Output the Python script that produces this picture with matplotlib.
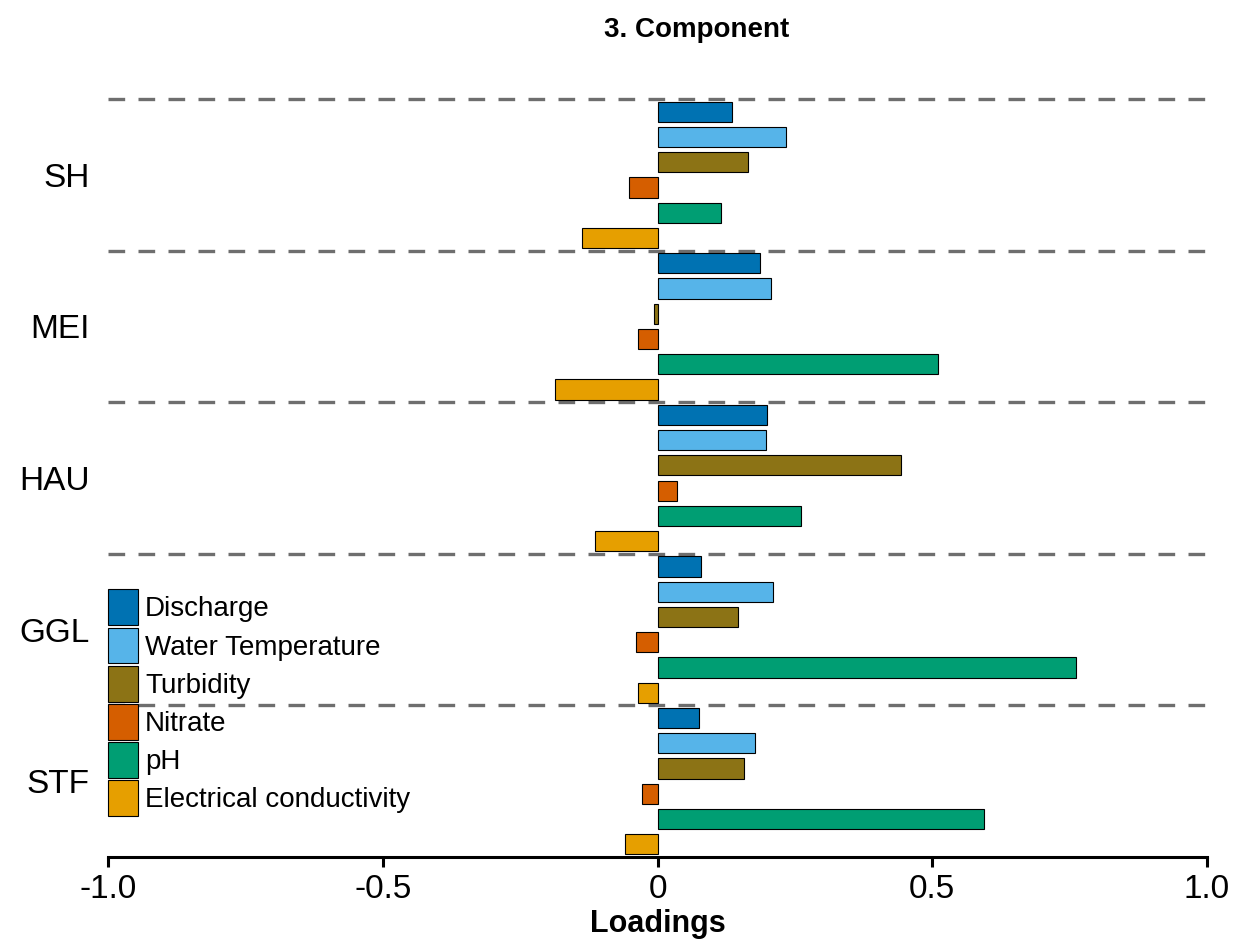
import matplotlib.pyplot as plt
from matplotlib.patches import Patch

# Sites (top to bottom) and variables within each site
sites = ['SH', 'MEI', 'HAU', 'GGL', 'STF']
variables = ['Discharge', 'Water Temperature', 'Turbidity', 'Nitrate', 'pH',
             'Electrical conductivity']
colors = ['#0072B2', '#56B4E9', '#8C7315', '#D55E00', '#009E73', '#E69F00']

# Loadings on the 3rd component, one row per site, same order as variables
sh = [0.136, 0.233, 0.164, -0.051, 0.116, -0.138]
mei = [0.186, 0.206, -0.007, -0.035, 0.511, -0.186]
hau = [0.200, 0.197, 0.444, 0.036, 0.262, -0.113]
ggl = [0.080, 0.211, 0.146, -0.040, 0.761, -0.035]
stf = [0.076, 0.177, 0.158, -0.029, 0.595, -0.060]
loadings = [sh, mei, hau, ggl, stf]

xticks = [-1.0, -0.5, 0, 0.5, 1.0]
xticklabels = ['-1.0', '-0.5', '0', '0.5', '1.0']

plt.rcParams['font.family'] = ['Liberation Sans', 'DejaVu Sans']

fig = plt.figure(figsize=(12.33, 9.4), dpi=100)
ax = fig.add_axes([108 / 1233, 1 - 857 / 940, 1099 / 1233, 758 / 940])

nvar = len(variables)
for i, vals in enumerate(loadings):
    for j, v in enumerate(vals):
        ax.barh(i * nvar + j, v, height=0.8, color=colors[j],
                edgecolor='black', linewidth=0.8, zorder=3)
    # separator above each site block
    ax.axhline(i * nvar - 0.5, color='#6e6e6e', linewidth=2.4,
               dashes=(5, 4), zorder=2, clip_on=False)

ax.set_xlim(-1, 1)
ax.set_ylim(len(sites) * nvar - 0.5, -0.5)

ax.set_yticks([i * nvar + (nvar - 1) / 2 for i in range(len(sites))])
ax.set_yticklabels(sites, fontsize=24)
ax.tick_params(axis='y', length=0, pad=13)

ax.set_xticks(xticks)
ax.set_xticklabels(xticklabels, fontsize=24)
ax.tick_params(axis='x', length=7, width=2.2, pad=5)

for side in ['top', 'right', 'left']:
    ax.spines[side].set_visible(False)
ax.spines['bottom'].set_linewidth(2.2)

ax.set_xlabel('Loadings', fontsize=22, fontweight='bold', labelpad=3)
fig.text(697 / 1233, 1 - 30 / 940, '3. Component', fontsize=20,
         fontweight='bold', ha='center', va='center')

handles = [Patch(facecolor=c, edgecolor='black', linewidth=0.8) for c in colors]
ax.legend(handles, variables, loc='upper left', bbox_to_anchor=(0.0, 0.353),
          borderaxespad=0, frameon=False, fontsize=20, handlelength=1.08,
          handleheight=1.6, labelspacing=0.09, handletextpad=0.25,
          borderpad=0)

fig.savefig('out.png', dpi=100)
